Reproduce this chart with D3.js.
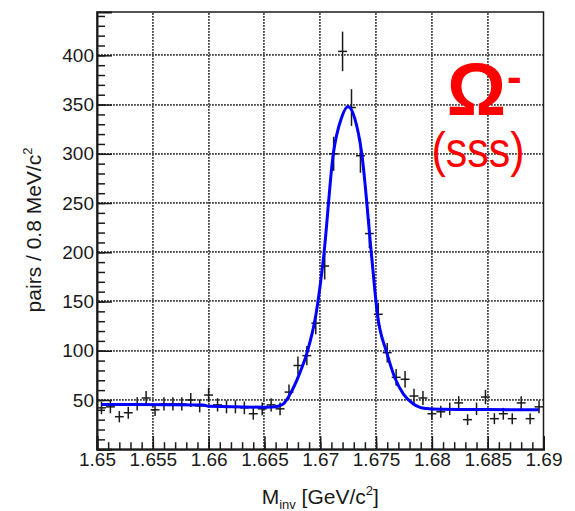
<!DOCTYPE html>
<html>
<head>
<meta charset="utf-8">
<script src="https://cdn.jsdelivr.net/npm/d3@7"></script>
<style>
    body { margin: 0; background: #fff; }
    svg text { font-family: "Liberation Sans", Arial, Helvetica, sans-serif; }
</style>
</head>
<body>
<div id="chart"></div>
<script>
// histogram: 50 bins of 0.8 MeV from 1.65 to 1.69 GeV/c^2
let binStart = 1.65;
let binWidth = 0.0008;
let counts = [42, 43, 33, 37, 46, 52, 40, 46, 46, 46,
              50, 44, 55, 45, 43, 43, 42, 36, 41, 45,
              41, 58, 85, 95, 128, 186, 300, 404, 347, 298,
              219, 137, 98, 73, 71, 54, 52, 36, 38, 41,
              47, 30, 41, 53, 31, 36, 31, 47, 31, 43];

// fit curve, points
let fitMass = [1.6504, 1.6595, 1.6600, 1.6650, 1.6657, 1.6662, 1.6667, 1.6672, 1.66819, 1.66879,
               1.66962, 1.6703, 1.67117, 1.67189, 1.67249, 1.67309, 1.67372, 1.67461, 1.67512,
               1.67596, 1.6767, 1.67745, 1.67834, 1.67894, 1.6795, 1.6800, 1.6850, 1.6896];
let fitValue = [45.4, 44.8, 43.6, 42.7, 42.8, 43.6, 46, 54, 78, 97,
                137, 195, 300, 336, 348, 336, 300, 195, 137,
                98, 72, 56, 46, 42.5, 41.3, 40.9, 40.3, 40.0];

let xMajor = [1.65, 1.655, 1.66, 1.665, 1.67, 1.675, 1.68, 1.685, 1.69];
let xLabels = ["1.65", "1.655", "1.66", "1.665", "1.67", "1.675", "1.68", "1.685", "1.69"];
let yMajor = [50, 100, 150, 200, 250, 300, 350, 400];

let width = 575;
let height = 511;
let margin = { left: 97, right: 31.5, top: 12, bottom: 61.8 };

let svg = d3.select("#chart").append("svg")
    .attr("width", width)
    .attr("height", height);

let x = d3.scaleLinear()
    .domain([1.65, 1.69])
    .range([margin.left, width - margin.right]);

let y = d3.scaleLinear()
    .domain([0, 444])
    .range([height - margin.bottom, margin.top]);

let ink = "#1a1a1a";
let plotW = x(1.69) - x(1.65);
let plotH = y(0) - y(444);

// dotted grid at the major ticks (one small square per dot)
let dotStep = 3;
let dotSize = 1.8;
let gridDots = [];
xMajor.slice(1, -1).forEach(v => {
    d3.range(y(444) + 2, y(0), dotStep).forEach(py => gridDots.push([Math.round(x(v)), Math.round(py)]));
});
yMajor.forEach(v => {
    d3.range(x(1.65) + 2, x(1.69), dotStep).forEach(px => gridDots.push([Math.round(px), Math.round(y(v))]));
});

svg.append("g")
    .attr("fill", "#444")
    .selectAll("rect")
    .data(gridDots)
    .enter()
    .append("rect")
    .attr("x", d => d[0] - 1)
    .attr("y", d => d[1] - 1)
    .attr("width", dotSize)
    .attr("height", dotSize);

// histogram points with sqrt(N) errors
let bins = counts.map((c, i) => ({
    lo: binStart + i * binWidth,
    mid: binStart + (i + 0.5) * binWidth,
    hi: binStart + (i + 1) * binWidth,
    n: c
}));

let pts = svg.append("g")
    .attr("stroke", ink)
    .attr("stroke-width", 1.5);

pts.selectAll(".h")
    .data(bins)
    .enter()
    .append("line")
    .attr("x1", d => x(d.lo)).attr("x2", d => x(d.hi))
    .attr("y1", d => y(d.n)).attr("y2", d => y(d.n));

pts.selectAll(".v")
    .data(bins)
    .enter()
    .append("line")
    .attr("x1", d => x(d.mid)).attr("x2", d => x(d.mid))
    .attr("y1", d => y(d.n - Math.sqrt(d.n))).attr("y2", d => y(d.n + Math.sqrt(d.n)));

// fit line
let line = d3.line()
    .x((d, i) => x(fitMass[i]))
    .y(d => y(d))
    .curve(d3.curveMonotoneX);

svg.append("path")
    .attr("d", line(fitValue))
    .attr("fill", "none")
    .attr("stroke", "#0000ff")
    .attr("stroke-width", 3);

// frame
svg.append("rect")
    .attr("x", x(1.65)).attr("y", y(444))
    .attr("width", plotW)
    .attr("height", plotH)
    .attr("fill", "none")
    .attr("stroke", ink)
    .attr("stroke-width", 1.5);

// x axis: minor then major ticks
let xAxisG = svg.append("g")
    .attr("class", "axis")
    .attr("transform", `translate(0, ${y(0)})`);

xAxisG.append("g")
    .call(d3.axisBottom(x).ticks(40).tickSize(-7).tickFormat(""))
    .call(g => g.select(".domain").remove());

xAxisG.append("g")
    .call(d3.axisBottom(x).tickValues(xMajor).tickSize(-13).tickPadding(3)
        .tickFormat((d, i) => xLabels[i]))
    .call(g => g.select(".domain").attr("stroke-width", 2).attr("stroke", ink));

// y axis
let yAxisG = svg.append("g")
    .attr("class", "axis")
    .attr("transform", `translate(${x(1.65)}, 0)`);

yAxisG.append("g")
    .call(d3.axisLeft(y).ticks(44).tickSize(-8).tickFormat(""))
    .call(g => g.select(".domain").remove());

yAxisG.append("g")
    .call(d3.axisLeft(y).tickValues(yMajor).tickSize(-15).tickPadding(3))
    .call(g => g.select(".domain").attr("stroke-width", 2).attr("stroke", ink));

svg.selectAll(".axis .tick line").attr("stroke", ink).attr("stroke-width", 1.5);
svg.selectAll(".axis .tick text")
    .attr("font-size", 19)
    .attr("font-family", "Liberation Sans, Arial, sans-serif")
    .attr("fill", ink);

// axis titles
let yTitle = svg.append("text")
    .attr("transform", `translate(41, 230) rotate(-90)`)
    .attr("text-anchor", "middle")
    .attr("font-size", 21)
    .attr("fill", ink);
yTitle.append("tspan").text("pairs / 0.8 MeV/c");
yTitle.append("tspan").attr("font-size", 13).attr("dy", -9).text("2");

let xTitle = svg.append("text")
    .attr("x", (x(1.65) + x(1.69)) / 2)
    .attr("y", 504)
    .attr("text-anchor", "middle")
    .attr("font-size", 21)
    .attr("fill", ink);
xTitle.append("tspan").text("M");
xTitle.append("tspan").attr("font-size", 13).attr("dy", 5).text("inv");
xTitle.append("tspan").attr("dy", -5).text(" [GeV/c");
xTitle.append("tspan").attr("font-size", 13).attr("dy", -9).text("2");
xTitle.append("tspan").attr("dy", 9).text("]");

// particle label
svg.append("text")
    .attr("x", 476.5).attr("y", 115)
    .attr("text-anchor", "middle")
    .attr("font-family", "Liberation Serif, Times New Roman, serif")
    .attr("font-size", 74)
    .attr("font-weight", "bold")
    .attr("fill", "#ff0000")
    .text("Ω");

svg.append("text")
    .attr("x", 507).attr("y", 92)
    .attr("font-size", 44)
    .attr("font-weight", "bold")
    .attr("fill", "#ff0000")
    .text("-");

svg.append("text")
    .attr("transform", "translate(478, 167) scale(0.86, 1)")
    .attr("text-anchor", "middle")
    .attr("font-size", 50)
    .attr("fill", "#ff0000")
    .text("(sss)");
</script>
</body>
</html>
